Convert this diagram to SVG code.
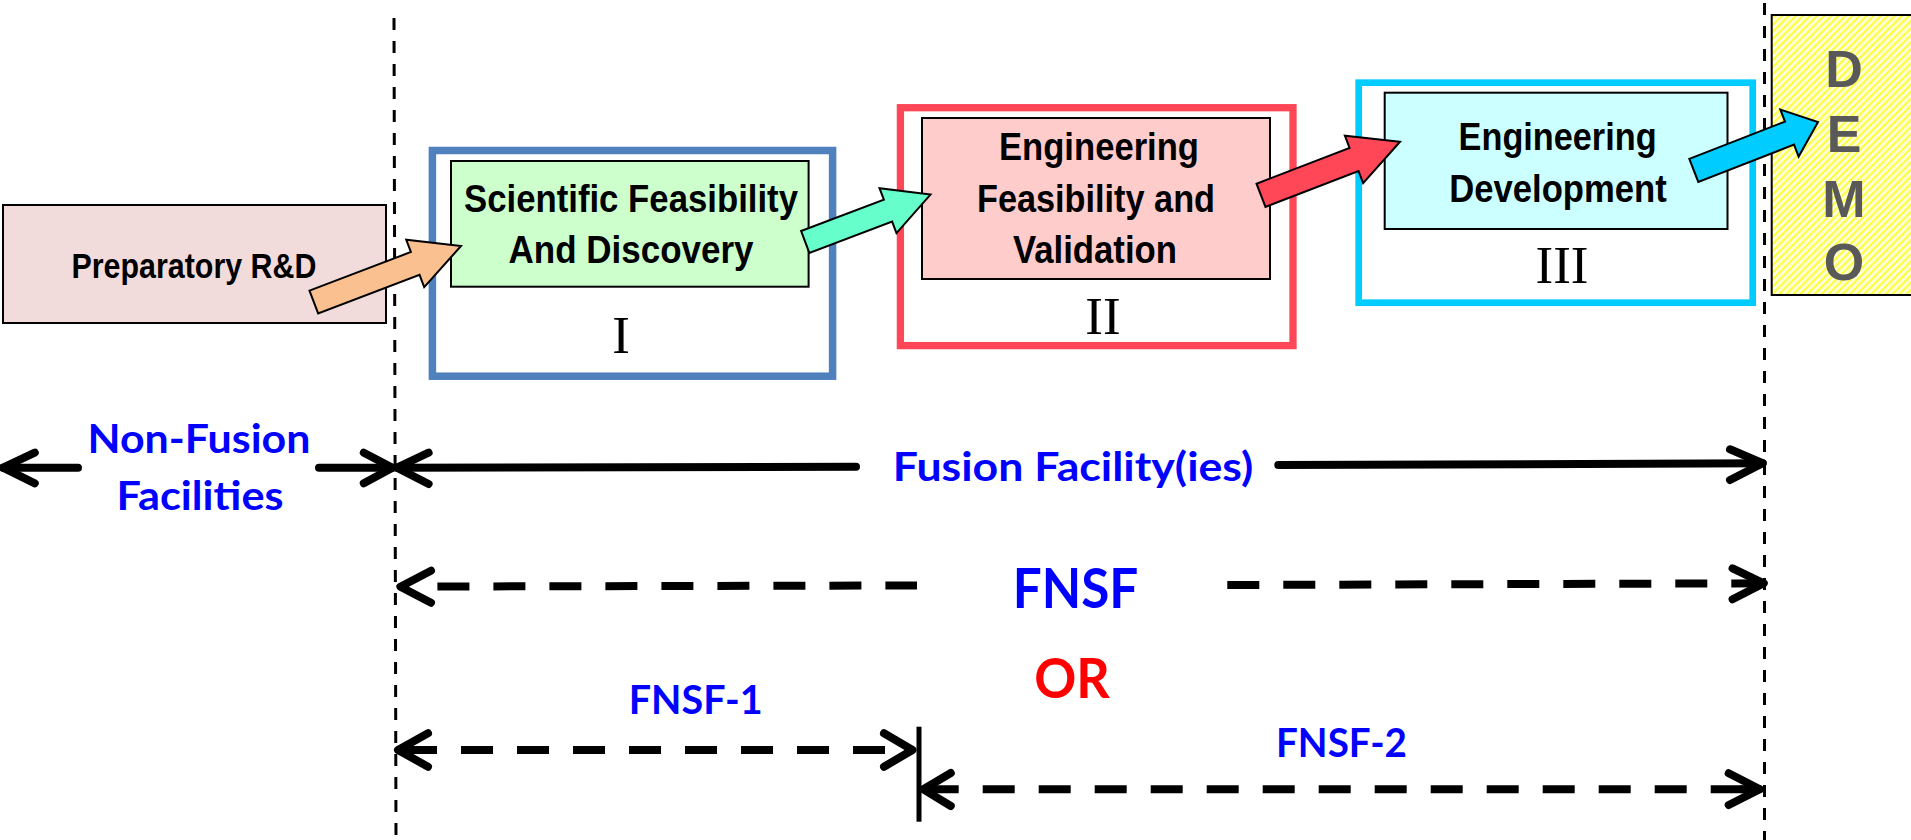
<svg xmlns="http://www.w3.org/2000/svg" width="1911" height="840" viewBox="0 0 1911 840">
<style>
.box{stroke:#000;stroke-width:2}
.bt{font-family:"Liberation Sans Narrow","Liberation Sans",Arial,sans-serif;font-weight:bold;font-size:39px;fill:#000;text-anchor:middle}
.rn{font-family:"Liberation Serif","Times New Roman",serif;font-size:53px;fill:#000;text-anchor:middle}
.lbl{font-family:Lato,"Open Sans",sans-serif;font-weight:bold;font-size:40px;fill:#0000ff;text-anchor:middle}
.big{font-size:55px}
.guide{stroke:#000;stroke-width:3;stroke-dasharray:12 11;fill:none}
.solid{stroke:#000;stroke-width:8;stroke-linecap:round;stroke-linejoin:round;fill:none}
.dash{stroke:#000;stroke-width:8;stroke-dasharray:32 24;fill:none}
.head{stroke:#000;stroke-width:8;stroke-linecap:round;stroke-linejoin:round;fill:none}
.blk{stroke:#000;stroke-width:2;stroke-linejoin:miter}
</style>
<defs>
<pattern id="hatch" width="5" height="5" patternUnits="userSpaceOnUse" patternTransform="rotate(45)">
<rect width="5" height="5" fill="#ffffe0"/>
<rect width="2.2" height="5" fill="#ffff40"/>
</pattern>
</defs>
<rect width="1911" height="840" fill="#fff"/>

<g id="guides">
<line class="guide" x1="394" y1="18" x2="396" y2="840"/>
<line class="guide" x1="1764.5" y1="3" x2="1764.5" y2="840"/>
</g>

<g id="node-prep">
<rect class="box" x="3" y="205" width="383" height="118" fill="#f2dcdb"/>
<text class="bt" x="194" y="278" style="font-size:35px" textLength="245" lengthAdjust="spacingAndGlyphs">Preparatory R&amp;D</text>
</g>

<g id="node-phase1">
<rect x="432.4" y="150.5" width="400.2" height="225.7" fill="#fff" stroke="#4f81bd" stroke-width="7.5"/>
<rect class="box" x="451" y="161" width="357.6" height="125.7" fill="#ccffcc"/>
<text class="bt" x="631" y="211.7" textLength="334" lengthAdjust="spacingAndGlyphs">Scientific Feasibility</text>
<text class="bt" x="631" y="263.3" textLength="245" lengthAdjust="spacingAndGlyphs">And Discovery</text>
<text class="rn" x="621" y="353">I</text>
</g>

<g id="node-phase2">
<rect x="900.4" y="107.7" width="392.6" height="237.9" fill="#fff" stroke="#ff4757" stroke-width="7.3"/>
<rect class="box" x="922" y="118" width="348" height="161" fill="#ffcccc"/>
<text class="bt" x="1099" y="160" textLength="200" lengthAdjust="spacingAndGlyphs">Engineering</text>
<text class="bt" x="1096" y="211.7" textLength="238" lengthAdjust="spacingAndGlyphs">Feasibility and</text>
<text class="bt" x="1095" y="263.3" textLength="164" lengthAdjust="spacingAndGlyphs">Validation</text>
<text class="rn" x="1103" y="334">II</text>
</g>

<g id="node-phase3">
<rect x="1358.7" y="82.7" width="394" height="220" fill="#fff" stroke="#00ccff" stroke-width="6.7"/>
<rect class="box" x="1384.7" y="92.7" width="342.8" height="136.3" fill="#ccffff"/>
<text class="bt" x="1557.6" y="150" textLength="198" lengthAdjust="spacingAndGlyphs">Engineering</text>
<text class="bt" x="1558" y="201.7" textLength="217.7" lengthAdjust="spacingAndGlyphs">Development</text>
<text class="rn" x="1562" y="283">III</text>
</g>

<g id="node-demo">
<rect class="box" x="1771.7" y="15" width="145" height="280" fill="url(#hatch)"/>
<g font-family="'Liberation Sans',Arial,sans-serif" font-weight="bold" font-size="52" fill="#595959" text-anchor="middle">
<text x="1844" y="87">D</text>
<text x="1844" y="151.5">E</text>
<text x="1844" y="216.5">M</text>
<text x="1844" y="280">O</text>
</g>
</g>

<g id="connectors">
<g transform="translate(313.8,302) rotate(-20.83)"><path class="blk" fill="#fac090" d="M0,-12.2 L108.5,-12.2 L108.5,-25.3 L157.5,0 L108.5,25.3 L108.5,12.2 L0,12.2 Z"/></g>
<g transform="translate(805.2,241.9) rotate(-20.68)"><path class="blk" fill="#66ffcc" d="M0,-11.7 L88.5,-11.7 L88.5,-24 L133.9,0 L88.5,24 L88.5,11.7 L0,11.7 Z"/></g>
<g transform="translate(1261,195.3) rotate(-21.09)"><path class="blk" fill="#ff4757" d="M0,-12.4 L99.7,-12.4 L99.7,-25.4 L149,0 L99.7,25.4 L99.7,12.4 L0,12.4 Z"/></g>
<g transform="translate(1693.8,170.4) rotate(-21.29)"><path class="blk" fill="#00ccff" d="M0,-12.4 L102.7,-12.4 L102.7,-25.2 L133.3,0 L102.7,25.2 L102.7,12.4 L0,12.4 Z"/></g>
</g>

<g id="span-nonfusion">
<line class="solid" x1="3" y1="467.7" x2="78" y2="467.7"/>
<polyline class="head" points="34.8,452.7 3,467.7 34.8,483.3"/>
<line class="solid" x1="319" y1="467.7" x2="392.5" y2="467.7"/>
<polyline class="head" points="363.8,452.7 392.5,467.7 363.8,483.3"/>
<text class="lbl" x="199" y="453" textLength="223" lengthAdjust="spacingAndGlyphs">Non-Fusion</text>
<text class="lbl" x="200" y="510" textLength="167" lengthAdjust="spacingAndGlyphs">Facilities</text>
</g>

<g id="span-fusion">
<line class="solid" x1="397" y1="467.7" x2="856" y2="466.7"/>
<polyline class="head" points="428.6,452.7 397,467.7 428.6,484"/>
<line class="solid" x1="1278.3" y1="465" x2="1762.7" y2="463.3"/>
<polyline class="head" points="1730,449.3 1762.7,463.3 1730,480"/>
<text class="lbl" x="1073" y="480.7" textLength="360.6" lengthAdjust="spacingAndGlyphs">Fusion Facility(ies)</text>
</g>

<g id="span-fnsf">
<line class="dash" x1="437.4" y1="586.5" x2="917" y2="585.5"/>
<polyline class="head" points="431,570.7 400.4,586.7 431,602.7"/>
<line class="dash" x1="1227.3" y1="585" x2="1763.8" y2="583.3"/>
<polyline class="head" points="1732.6,568.3 1763.8,583.3 1732.6,599.3"/>
<text class="lbl big" x="1075.5" y="608.3" textLength="125.6" lengthAdjust="spacingAndGlyphs">FNSF</text>
</g>

<text id="or-label" class="lbl big" x="1072" y="698.3" style="fill:#ff0000" textLength="75.7" lengthAdjust="spacingAndGlyphs">OR</text>

<g id="span-fnsf1">
<line class="dash" x1="405" y1="750" x2="912" y2="750"/>
<polyline class="head" points="428,733.3 398,750 428,766.7"/>
<polyline class="head" points="884,733.3 912.5,750 884,766.7"/>
<text class="lbl" x="695.7" y="714" textLength="134" lengthAdjust="spacingAndGlyphs">FNSF-1</text>
</g>

<line id="separator" x1="919" y1="726.7" x2="919" y2="821.7" stroke="#000" stroke-width="5"/>

<g id="span-fnsf2">
<line class="dash" x1="926.7" y1="789.3" x2="1760" y2="789.3"/>
<line class="solid" x1="1742" y1="789.3" x2="1759" y2="789.3"/>
<polyline class="head" points="950.8,773 923.4,789.3 950.8,806"/>
<polyline class="head" points="1728.7,773.3 1759.9,789.3 1728.7,805"/>
<text class="lbl" x="1341.5" y="756.7" textLength="131" lengthAdjust="spacingAndGlyphs">FNSF-2</text>
</g>
</svg>
